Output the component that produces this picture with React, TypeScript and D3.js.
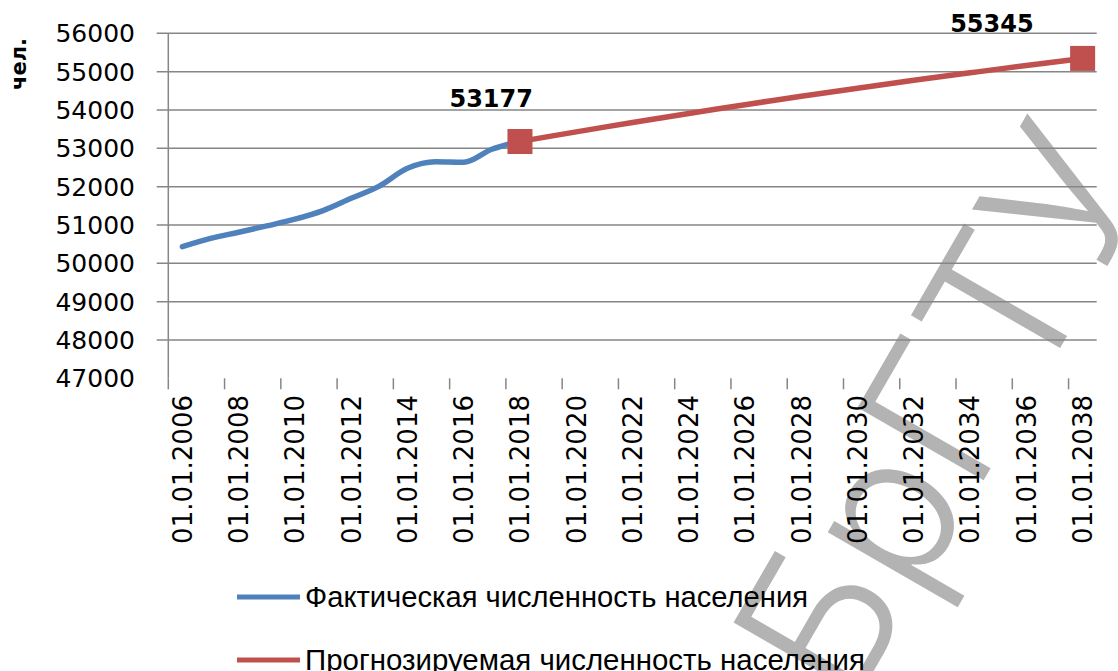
import React from 'react';
import * as d3 from 'd3';

// years on the category axis, one category per year
const years = d3.range(2006, 2039);
const yTicks = [48000, 49000, 50000, 51000, 52000, 53000, 54000, 55000, 56000];
const yLabels = [47000, 48000, 49000, 50000, 51000, 52000, 53000, 54000, 55000, 56000];

// фактическая численность
const actualYears = [2006, 2007, 2008, 2009, 2010, 2011, 2012, 2013, 2014, 2015, 2016, 2017, 2018];
const actualValues = [50433, 50650, 50810, 50975, 51150, 51375, 51695, 52015, 52478, 52650, 52635, 52975, 53177];

// прогноз
const forecastYears = [2018, 2019, 2020, 2021, 2022, 2023, 2024, 2025, 2026, 2027, 2028, 2029, 2030, 2031, 2032, 2033, 2034, 2035, 2036, 2037, 2038];
const forecastValues = [53177, 53304, 53429, 53552, 53673, 53792, 53909, 54024, 54137, 54248, 54357, 54464, 54569, 54672, 54773, 54872, 54969, 55066, 55161, 55254, 55345];

const seriesNames = ['Фактическая численность населения', 'Прогнозируемая численность населения'];
const BLUE = '#4F81BD';
const RED = '#C0504D';
const GRID = '#868686';

const W = 1118, H = 671;
const left = 168.3, right = 1096.7, top = 33.3, bottom = 378.3;

const dateLabel = (y: number) => '01.01.' + y;

export default function App() {
  const x = d3.scaleBand<number>().domain(years).range([left, right]).padding(0);
  const y = d3.scaleLinear().domain([47000, 56000]).range([bottom, top]);
  const cx = (yr: number) => (x(yr) as number) + x.bandwidth() / 2;

  const line = d3.line<[number, number]>()
    .x(d => cx(d[0]))
    .y(d => y(d[1]))
    .curve(d3.curveMonotoneX);

  const actual = actualYears.map((yr, i) => [yr, actualValues[i]] as [number, number]);
  const forecast = forecastYears.map((yr, i) => [yr, forecastValues[i]] as [number, number]);

  const labelYears = years.filter(yr => (yr - 2006) % 2 === 0);
  // tick marks between categories, every second one
  const tickPos = d3.range(0, years.length, 2).map(i => left + i * x.bandwidth());

  const markers = [
    { year: 2018, value: 53177, dx: 13, dy: -35 },
    { year: 2038, value: 55345, dx: -49, dy: -26 },
  ];

  const tickFont = '"DejaVu Sans", Verdana, sans-serif';

  return (
    <svg width={W} height={H} style={{ position: 'absolute', left: 0, top: 0, background: '#fff' }}>
      {/* watermark */}
      <text transform="translate(850,712) rotate(-60)" fontFamily="Inter, sans-serif" fontWeight={350}
        fontSize={200} fill="#b3b3b3">БрГТУ</text>

      {/* grid */}
      <g>
        {yTicks.map(v => (
          <line key={v} x1={left - 11.6} x2={right} y1={y(v)} y2={y(v)} stroke={GRID} strokeWidth={1.5} />
        ))}
        <line x1={left} x2={left} y1={top} y2={bottom} stroke={GRID} strokeWidth={1.5} />
        {tickPos.map((p, i) => (
          <line key={i} x1={p} x2={p} y1={bottom} y2={bottom + 11} stroke={GRID} strokeWidth={1.5} />
        ))}
      </g>

      {/* y labels */}
      <g fontFamily={tickFont} fontSize={25} fill="#000" textAnchor="end">
        {yLabels.map(v => (
          <text key={v} x={135} y={y(v)} dy="0.36em">{v}</text>
        ))}
      </g>
      <text transform="translate(26,64) rotate(-90)" textAnchor="middle" fontFamily={tickFont}
        fontWeight="bold" fontSize={21}>чел.</text>

      {/* x labels */}
      <g fontFamily={tickFont} fontSize={26} fill="#000" textAnchor="end">
        {labelYears.map(yr => (
          <text key={yr} transform={`translate(${cx(yr)},395) rotate(-90)`} dy="0.36em">{dateLabel(yr)}</text>
        ))}
      </g>

      {/* lines */}
      <path d={line(actual) || ''} fill="none" stroke={BLUE} strokeWidth={5.5} strokeLinejoin="round" strokeLinecap="round" />
      <path d={line(forecast) || ''} fill="none" stroke={RED} strokeWidth={5.5} strokeLinejoin="round" />

      {markers.map(m => (
        <g key={m.year}>
          <rect x={cx(m.year) - 12.5} y={y(m.value) - 12.5} width={25} height={25} fill={RED} />
          <text x={cx(m.year) + m.dx} y={y(m.value) + m.dy} textAnchor="end" fontFamily={tickFont}
            fontWeight="bold" fontSize={24}>{m.value}</text>
        </g>
      ))}

      {/* legend */}
      {seriesNames.map((name, i) => (
        <g key={name} transform={`translate(0,${597 + i * 63})`}>
          <line x1={237} x2={300} y1={0} y2={0} stroke={i === 0 ? BLUE : RED} strokeWidth={5} />
          <text x={305} y={0} dy="0.36em" fontFamily='"Liberation Sans Narrow", "Liberation Sans", sans-serif'
            fontSize={29} textLength={i === 0 ? 503 : 560} lengthAdjust="spacingAndGlyphs">{name}</text>
        </g>
      ))}
    </svg>
  );
}
